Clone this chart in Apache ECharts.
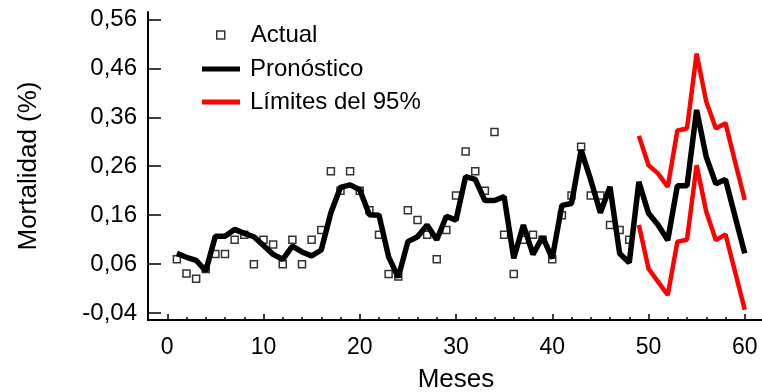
<!DOCTYPE html>
<html>
<head>
<meta charset="utf-8">
<script src="https://cdn.jsdelivr.net/npm/echarts@6/dist/echarts.min.js"></script>
<style>
html, body {margin:0; padding:0; background:#fff;}
#chart {width:762px; height:392px;}
</style>
</head>
<body>
<div id="chart"></div>
<script>
// valores
var mesesActual = [1,2,3,4,5,6,7,8,9,10,11,12,13,14,15,16,17,18,19,20,21,22,23,24,25,26,27,28,29,30,31,32,33,34,35,36,37,38,39,40,41,42,43,44,45,46,47,48];
var actual = [0.07,0.041,0.03,0.05,0.081,0.081,0.11,0.12,0.06,0.11,0.10,0.06,0.11,0.06,0.11,0.13,0.25,0.21,0.25,0.21,
    0.17,0.12,0.04,0.035,0.17,0.15,0.12,0.07,0.13,0.20,0.29,0.25,0.21,0.33,0.12,0.04,0.11,0.12,0.11,0.07,
    0.16,0.20,0.30,0.20,0.20,0.14,0.13,0.11];

var mesesPronostico = [1,2,3,4,5,6,7,8,9,10,11,12,13,14,15,16,17,18,19,20,21,22,23,24,25,26,27,28,29,30,31,32,33,34,35,36,37,38,39,40,41,42,43,44,45,46,47,48,49,50,51,52,53,54,55,56,57,58,59,60];
var pronostico = [0.082,0.074,0.068,0.046,0.117,0.117,0.131,0.123,0.116,0.098,
    0.08,0.07,0.097,0.085,0.077,0.089,0.165,0.217,0.222,0.212,
    0.161,0.16,0.075,0.033,0.106,0.116,0.14,0.11,0.158,0.15,
    0.239,0.233,0.19,0.19,0.198,0.072,0.14,0.08,0.116,0.072,
    0.18,0.184,0.293,0.232,0.165,0.218,0.082,0.063,0.228,0.164,
    0.14,0.109,0.22,0.22,0.375,0.279,0.224,0.233,0.157,0.082];

var mesesLimites = [49,50,51,52,53,54,55,56,57,58,59,60];
var limiteSup = [0.322,0.262,0.245,0.218,0.333,0.337,0.49,0.392,0.337,0.348,0.269,0.191];
var limiteInf = [0.14,0.051,0.024,-0.003,0.106,0.11,0.262,0.167,0.109,0.121,0.044,-0.033];

var yTicks = [-0.04,0.06,0.16,0.26,0.36,0.46,0.56];
var xTicks = [0,10,20,30,40,50,60];
var xMinorTicks = [0,2,4,6,8,12,14,16,18,22,24,26,28,32,34,36,38,42,44,46,48,52,54,56,58,62];

function pares(xs, ys) {
    var out = [];
    for (var i = 0; i < xs.length; i++) { out.push([xs[i], ys[i]]); }
    return out;
}

var fuente = "'Liberation Sans', Arial, sans-serif";
var myChart = echarts.init(document.getElementById('chart'));

var option = {
    animation: false,
    backgroundColor: '#fff',
    textStyle: {fontFamily: fuente, color: '#000'},
    grid: {left: 148, top: 12, width: 616, height: 308, outerBoundsMode: 'none', containLabel: false},
    legend: [
        {data: ['Actual'], left: 211, top: 17, icon: 'rect', itemWidth: 8, itemHeight: 8,
            itemStyle: {color: '#fff', borderColor: '#000', borderWidth: 1.5},
            textStyle: {fontSize: 24, color: '#000', fontFamily: fuente, lineHeight: 26, padding: [0, 0, 0, 21]}},
        {data: ['Pronóstico'], left: 197, top: 51, icon: 'rect', itemWidth: 38, itemHeight: 5,
            textStyle: {fontSize: 24, color: '#000', fontFamily: fuente, lineHeight: 26, padding: [0, 0, 0, 5]}},
        {data: ['Límites del 95%'], left: 197, top: 84, icon: 'rect', itemWidth: 38, itemHeight: 5,
            textStyle: {fontSize: 24, color: '#000', fontFamily: fuente, lineHeight: 26, padding: [0, 0, 0, 5]}}
    ],
    xAxis: [
        {type: 'value', min: -2, max: 62, name: 'Meses', nameLocation: 'middle', nameGap: 47,
            nameTextStyle: {fontSize: 26, color: '#000', fontFamily: fuente},
            axisLine: {onZero: false, lineStyle: {color: '#000', width: 2}},
            axisTick: {inside: true, length: 6, lineStyle: {color: '#000', width: 1.5}, customValues: xTicks},
            axisLabel: {fontSize: 23, color: '#000', margin: 16, customValues: xTicks},
            splitLine: {show: false}},
        {type: 'value', min: -2, max: 62, position: 'bottom',
            axisLine: {show: false, onZero: false},
            axisTick: {inside: true, length: 3, lineStyle: {color: '#000', width: 1.5}, customValues: xMinorTicks},
            axisLabel: {show: false},
            splitLine: {show: false}}
    ],
    yAxis: {type: 'value', min: -0.054, max: 0.575, name: 'Mortalidad (%)', nameLocation: 'middle', nameGap: 106,
        nameTextStyle: {fontSize: 26, color: '#000', fontFamily: fuente},
        axisLine: {show: true, onZero: false, lineStyle: {color: '#000', width: 2}},
        axisTick: {show: true, inside: true, length: 13, lineStyle: {color: '#000', width: 1.5}, customValues: yTicks},
        axisLabel: {fontSize: 24, color: '#000', margin: 11, customValues: yTicks,
            formatter: function (v) { return v.toFixed(2).replace('.', ','); }},
        splitLine: {show: false}},
    series: [
        {name: 'Actual', type: 'scatter', data: pares(mesesActual, actual), symbol: 'rect', symbolSize: 7,
            itemStyle: {color: '#fff', borderColor: '#000', borderWidth: 1.5}, z: 2},
        {name: 'Límites del 95%', type: 'line', data: pares(mesesLimites, limiteSup), symbol: 'none', color: '#ff0000',
            lineStyle: {color: '#ff0000', width: 4.5}, z: 3},
        {name: 'Límites del 95%', type: 'line', data: pares(mesesLimites, limiteInf), symbol: 'none', color: '#ff0000',
            lineStyle: {color: '#ff0000', width: 4.5}, z: 3},
        {name: 'Pronóstico', type: 'line', data: pares(mesesPronostico, pronostico), symbol: 'none', color: '#000',
            lineStyle: {color: '#000', width: 5.5}, z: 4}
    ]
};

myChart.setOption(option);
</script>
</body>
</html>
